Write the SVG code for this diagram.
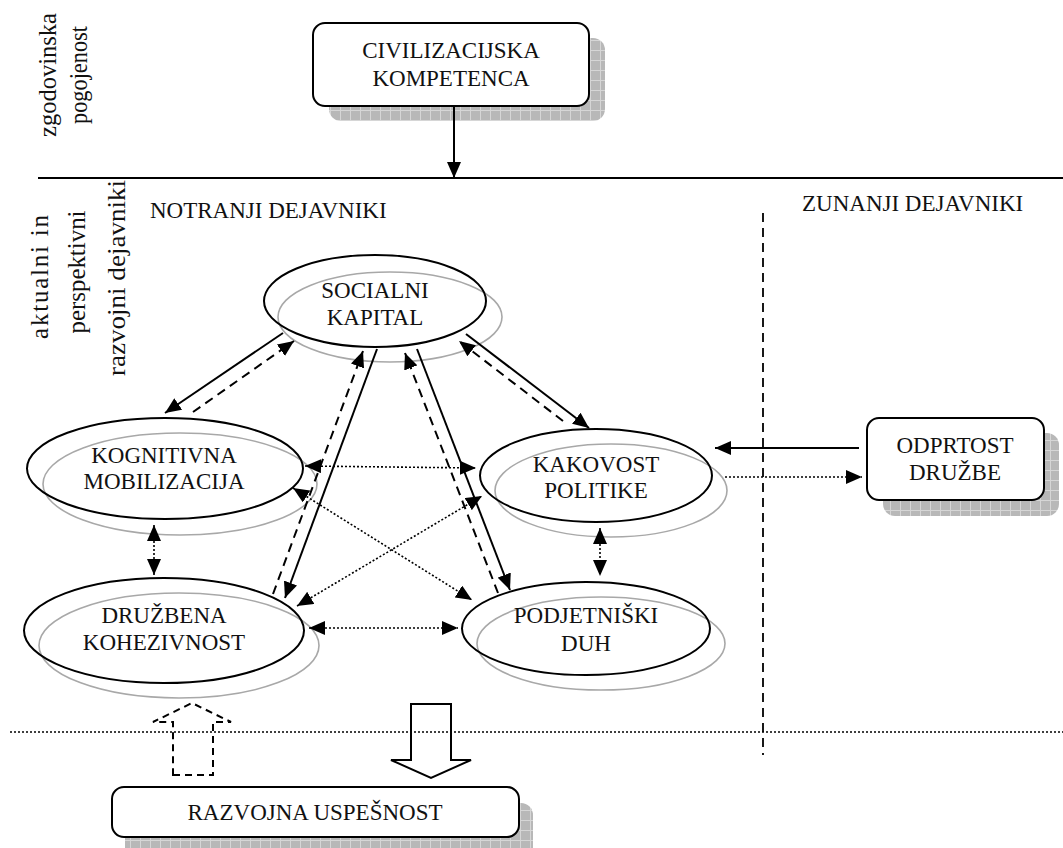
<svg xmlns="http://www.w3.org/2000/svg" width="1063" height="848" viewBox="0 0 1063 848" font-family="'Liberation Serif', 'Times New Roman', serif" font-size="23">
<style>
text{fill:#111;}
.c{text-anchor:middle;}
.rot{font-size:25px;}
.box{fill:#fff;stroke:#000;stroke-width:2;}
.shadow{fill:url(#grid);stroke:none;}
.ell{fill:none;stroke:#000;stroke-width:2;}
.ellg{fill:none;stroke:#a8a8a8;stroke-width:1.6;}
.solid{fill:none;stroke:#000;stroke-width:2;}
.dash{fill:none;stroke:#000;stroke-width:2;stroke-dasharray:9,6;}
.dot{fill:none;stroke:#000;stroke-width:1.6;stroke-dasharray:2,2;}
.rule{fill:none;stroke:#000;stroke-width:2;}
</style>
<defs>
<pattern id="grid" width="10" height="10" patternUnits="userSpaceOnUse">
<rect width="10" height="10" fill="#b8b8b8"/>
<path d="M0,0.5H10M0.5,0V10" stroke="#d6d6d6" stroke-width="1"/>
</pattern>
<marker id="ah" markerUnits="userSpaceOnUse" markerWidth="16" markerHeight="14" viewBox="0 0 16 14" refX="16" refY="7" orient="auto-start-reverse">
<path d="M0,0L16,7L0,14z" fill="#000"/>
</marker>
</defs>

<g id="labels">
<text class="c rot" transform="translate(56,75) rotate(-90)" textLength="124" lengthAdjust="spacingAndGlyphs">zgodovinska</text>
<text class="c rot" transform="translate(87,75) rotate(-90)" textLength="98" lengthAdjust="spacingAndGlyphs">pogojenost</text>
<text class="c rot" transform="translate(48,277) rotate(-90)" textLength="124" lengthAdjust="spacing">aktualni in</text>
<text class="c rot" transform="translate(85,272) rotate(-90)" textLength="123" lengthAdjust="spacingAndGlyphs">perspektivni</text>
<text class="c rot" transform="translate(125,278) rotate(-90)" textLength="196" lengthAdjust="spacingAndGlyphs">razvojni dejavniki</text>
<text x="150" y="218">NOTRANJI DEJAVNIKI</text>
<text x="802" y="211">ZUNANJI DEJAVNIKI</text>
</g>

<g id="rules">
<line class="rule" x1="38" y1="178" x2="1063" y2="178"/>
<line class="dash" x1="763" y1="213" x2="763" y2="755" style="stroke-width:1.8"/>
<line class="dot" x1="10" y1="732" x2="1063" y2="732" style="stroke-width:1.4"/>
</g>

<g id="civilizacijska">
<rect class="shadow" x="329" y="38" width="276" height="83" rx="12"/>
<rect class="box" x="313" y="23" width="276" height="83" rx="12"/>
<text class="c" x="451" y="58">CIVILIZACIJSKA</text>
<text class="c" x="451" y="86">KOMPETENCA</text>
</g>

<g id="socialni">
<ellipse class="ellg" cx="390" cy="317" rx="112" ry="45"/>
<ellipse class="ell" cx="375" cy="301" rx="111" ry="46"/>
<text class="c" x="375" y="298">SOCIALNI</text>
<text class="c" x="375" y="325">KAPITAL</text>
</g>

<g id="kognitivna">
<ellipse class="ellg" cx="180" cy="484" rx="137" ry="51"/>
<ellipse class="ell" cx="165" cy="468.5" rx="138" ry="50.5"/>
<text class="c" x="164" y="463">KOGNITIVNA</text>
<text class="c" x="164" y="489">MOBILIZACIJA</text>
</g>

<g id="druzbena">
<ellipse class="ellg" cx="179" cy="645.5" rx="140" ry="52.5"/>
<ellipse class="ell" cx="164" cy="630.5" rx="140" ry="52.5"/>
<text class="c" x="164" y="623">DRUŽBENA</text>
<text class="c" x="164" y="650">KOHEZIVNOST</text>
</g>

<g id="kakovost">
<ellipse class="ellg" cx="611" cy="490.5" rx="116" ry="46.5"/>
<ellipse class="ell" cx="596" cy="475.5" rx="116" ry="46.5"/>
<text class="c" x="596" y="472">KAKOVOST</text>
<text class="c" x="596" y="498">POLITIKE</text>
</g>

<g id="podjetniski">
<ellipse class="ellg" cx="601" cy="643.5" rx="124" ry="46.5"/>
<ellipse class="ell" cx="586" cy="628.5" rx="124" ry="46.5"/>
<text class="c" x="586" y="623">PODJETNIŠKI</text>
<text class="c" x="586" y="651">DUH</text>
</g>

<g id="odprtost">
<rect class="shadow" x="883" y="433" width="176" height="83" rx="12"/>
<rect class="box" x="867" y="418" width="177" height="82" rx="12"/>
<text class="c" x="955" y="453">ODPRTOST</text>
<text class="c" x="955" y="480">DRUŽBE</text>
</g>

<g id="razvojna">
<rect class="shadow" x="125" y="803" width="408" height="60" rx="12"/>
<rect class="box" x="112" y="787" width="407" height="50" rx="12"/>
<text class="c" x="315" y="820">RAZVOJNA USPEŠNOST</text>
</g>

<g id="connectors">
<line class="solid" x1="454" y1="106" x2="454" y2="178" marker-end="url(#ah)"/>

<line class="solid" x1="283" y1="333" x2="165" y2="413" marker-end="url(#ah)"/>
<line class="dash" x1="193" y1="412" x2="294" y2="341" marker-end="url(#ah)"/>
<line class="solid" x1="377" y1="349" x2="285" y2="598" marker-end="url(#ah)"/>
<line class="dash" x1="273" y1="594" x2="363" y2="351" marker-end="url(#ah)"/>
<line class="solid" x1="417" y1="349" x2="510" y2="590" marker-end="url(#ah)"/>
<line class="dash" x1="498" y1="593" x2="405" y2="353" marker-end="url(#ah)"/>
<line class="solid" x1="466" y1="334" x2="589" y2="428" marker-end="url(#ah)"/>
<line class="dash" x1="563" y1="421" x2="459" y2="341" marker-end="url(#ah)"/>

<line class="dot" x1="305" y1="466" x2="476" y2="468" marker-start="url(#ah)" marker-end="url(#ah)"/>
<line class="dot" x1="293" y1="488" x2="472" y2="600" marker-start="url(#ah)" marker-end="url(#ah)"/>
<line class="dot" x1="297" y1="606" x2="482" y2="496" marker-start="url(#ah)" marker-end="url(#ah)"/>
<line class="dot" x1="309" y1="628" x2="458" y2="628" marker-start="url(#ah)" marker-end="url(#ah)"/>
<line class="dot" x1="154" y1="525" x2="154" y2="575" marker-start="url(#ah)" marker-end="url(#ah)"/>
<line class="dot" x1="600" y1="528" x2="600" y2="576" marker-start="url(#ah)" marker-end="url(#ah)"/>

<line class="solid" x1="859" y1="448" x2="715" y2="448" marker-end="url(#ah)"/>
<line class="dot" x1="725" y1="477" x2="862" y2="477" marker-end="url(#ah)"/>

<polygon class="solid" points="411,704 451,704 451,760 471,760 431,778 391,760 411,760"/>
<polygon class="dash" points="173,775 213,775 213,722 231,722 192,703 153,722 173,722" style="stroke-dasharray:7,5"/>
</g>
</svg>
